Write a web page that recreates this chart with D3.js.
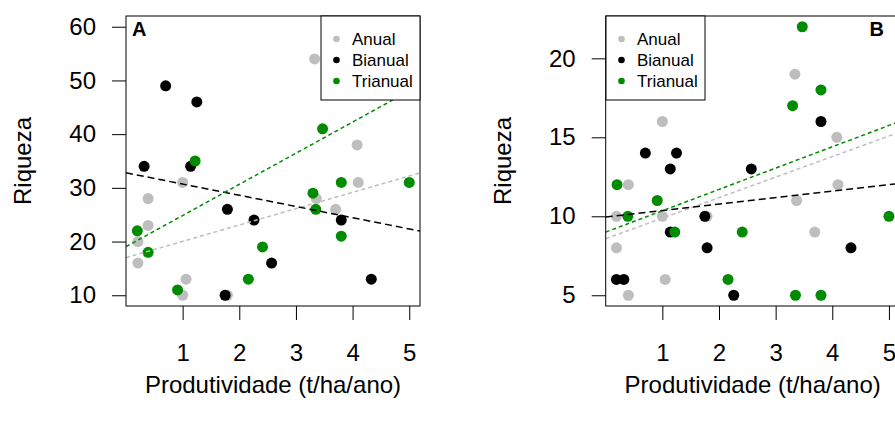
<!DOCTYPE html>
<html>
<head>
<meta charset="utf-8">
<script src="https://cdn.jsdelivr.net/npm/d3@7"></script>
<style>
  body { margin: 0; background: #fff; }
  svg { display: block; font-family: "Liberation Sans", Arial, sans-serif; }
</style>
</head>
<body>
<div id="chart"></div>
<script>
// values
const seriesNames = ['Anual', 'Bianual', 'Trianual'];
const seriesColors = ['#bebebe', '#000000', '#008b00'];

const xTicks = [1, 2, 3, 4, 5];
const yTicksA = [10, 20, 30, 40, 50, 60];
const yTicksB = [5, 10, 15, 20];

// panel A
const anualA_x = [3.33, 4.08, 4.10, 1.00, 3.36, 0.39, 3.70, 0.39, 0.21, 0.21, 1.06, 1.00, 1.79];
const anualA_y = [54, 38, 31, 31, 28, 28, 26, 23, 20, 16, 13, 10, 10];
const bianualA_x = [0.70, 1.25, 0.32, 1.14, 1.79, 2.26, 3.80, 2.57, 4.33, 1.75];
const bianualA_y = [49, 46, 34, 34, 26, 24, 24, 16, 13, 10];
const trianualA_x = [3.47, 1.22, 3.80, 5.00, 3.30, 3.35, 0.20, 3.80, 2.41, 0.39, 2.16, 0.91];
const trianualA_y = [41, 35, 31, 31, 29, 26, 22, 21, 19, 18, 13, 11];
const fitA_intercept = [17.0, 32.8, 19.05];
const fitA_slope = [3.04, -2.09, 5.8];

// panel B
const anualB_x = [3.34, 1.00, 4.08, 0.40, 4.10, 3.37, 0.19, 1.00, 1.79, 3.69, 0.19, 1.05, 0.40];
const anualB_y = [19, 16, 15, 12, 12, 11, 10, 10, 10, 9, 8, 6, 5];
const bianualB_x = [3.80, 0.70, 1.25, 1.14, 2.57, 1.75, 1.14, 1.79, 4.33, 0.19, 0.32, 2.26];
const bianualB_y = [16, 14, 14, 13, 13, 10, 9, 8, 8, 6, 6, 5];
const trianualB_x = [3.47, 3.80, 3.30, 0.20, 0.91, 0.39, 5.00, 1.22, 2.41, 2.16, 3.35, 3.80];
const trianualB_y = [22, 18, 17, 12, 11, 10, 10, 9, 9, 6, 5, 5];
const fitB_intercept = [8.58, 9.95, 9.0];
const fitB_slope = [1.30, 0.41, 1.35];

const width = 895, height = 425;
const svg = d3.select('#chart').append('svg')
    .attr('width', width)
    .attr('height', height);

function drawPanel(opts) {
    const top = 16, bottom = 306;
    const xScale = d3.scaleLinear().domain([0, 5.19]).range([opts.left, opts.left + 294]);
    const yScale = d3.scaleLinear().domain(opts.yDomain).range([bottom, top]);

    const g = svg.append('g');

    g.append('clipPath').attr('id', 'clip' + opts.label)
        .append('rect')
        .attr('x', opts.left).attr('y', top)
        .attr('width', 294).attr('height', bottom - top);

    // points, gray then black then green
    const series = opts.xs.map((xs, i) => xs.map((x, j) => ({x: x, y: opts.ys[i][j], s: i})));
    series.forEach((pts, i) => {
        g.selectAll(null)
            .data(pts)
            .enter()
            .append('circle')
            .attr('cx', d => xScale(d.x))
            .attr('cy', d => yScale(d.y))
            .attr('r', 5.5)
            .style('fill', seriesColors[i]);
    });

    // fitted lines across the whole plot
    const dashes = ['4,3', '7,4', '4,3'];
    const fits = opts.intercepts.map((a, i) => ({a: a, b: opts.slopes[i], s: i}));
    g.selectAll(null)
        .data(fits)
        .enter()
        .append('line')
        .attr('clip-path', `url(#clip${opts.label})`)
        .attr('x1', xScale(0))
        .attr('x2', xScale(5.19))
        .attr('y1', d => yScale(d.a))
        .attr('y2', d => yScale(d.a + d.b * 5.19))
        .style('stroke', d => seriesColors[d.s])
        .style('stroke-width', 1.5)
        .style('stroke-dasharray', d => dashes[d.s]);

    // axes
    const yAxis = g.append('g')
        .attr('transform', `translate(${opts.left},0)`)
        .call(d3.axisLeft(yScale).tickValues(opts.yTicks).tickFormat(d3.format('d'))
            .tickSize(14).tickSizeOuter(0).tickPadding(16));
    const xAxis = g.append('g')
        .attr('transform', `translate(0,${bottom})`)
        .call(d3.axisBottom(xScale).tickValues(xTicks).tickFormat(d3.format('d'))
            .tickSize(14).tickSizeOuter(0).tickPadding(24));
    [xAxis, yAxis].forEach(ax => {
        ax.select('.domain').remove();
        ax.selectAll('line').style('stroke', '#000');
        ax.selectAll('text').style('font-size', '24px').style('fill', '#000');
    });

    // box
    g.append('rect')
        .attr('x', opts.left).attr('y', top)
        .attr('width', 294).attr('height', bottom - top)
        .style('fill', 'none').style('stroke', '#000').style('stroke-width', 1);

    // legend
    const leg = g.append('g').attr('transform', `translate(${opts.legendX},${top})`);
    leg.append('rect')
        .attr('width', 99).attr('height', 84)
        .style('fill', '#fff').style('stroke', '#000');
    seriesNames.forEach((name, i) => {
        leg.append('circle')
            .attr('cx', 15.5).attr('cy', 23 + i * 21)
            .attr('r', 3.3)
            .style('fill', seriesColors[i]);
        leg.append('text')
            .attr('x', 31).attr('y', 23 + i * 21)
            .attr('dy', '0.35em')
            .style('font-size', '17px')
            .text(name);
    });

    // panel letter
    g.append('text')
        .attr('x', opts.letterX).attr('y', 36)
        .attr('text-anchor', opts.letterAnchor)
        .style('font-size', '20px').style('font-weight', 'bold')
        .text(opts.label);

    // axis titles
    g.append('text')
        .attr('x', opts.left + 147).attr('y', 393)
        .attr('text-anchor', 'middle')
        .style('font-size', '24px')
        .text('Produtividade (t/ha/ano)');
    g.append('text')
        .attr('transform', `translate(${opts.titleX},161) rotate(-90)`)
        .attr('text-anchor', 'middle')
        .attr('dy', '0.35em')
        .style('font-size', '24px')
        .text('Riqueza');
}

drawPanel({
    label: 'A', left: 126, yDomain: [8, 62], yTicks: yTicksA,
    xs: [anualA_x, bianualA_x, trianualA_x], ys: [anualA_y, bianualA_y, trianualA_y],
    intercepts: fitA_intercept, slopes: fitA_slope,
    legendX: 321, letterX: 132, letterAnchor: 'start', titleX: 23
});

drawPanel({
    label: 'B', left: 605.7, yDomain: [4.32, 22.68], yTicks: yTicksB,
    xs: [anualB_x, bianualB_x, trianualB_x], ys: [anualB_y, bianualB_y, trianualB_y],
    intercepts: fitB_intercept, slopes: fitB_slope,
    legendX: 606, letterX: 884, letterAnchor: 'end', titleX: 503
});
</script>
</body>
</html>
